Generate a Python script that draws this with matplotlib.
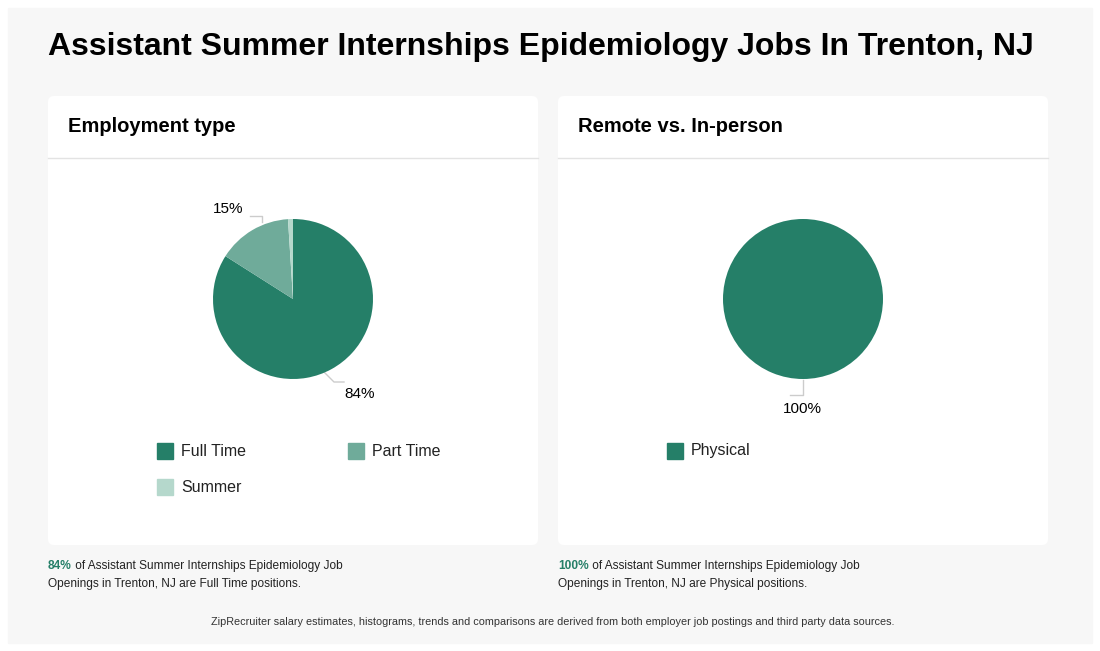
import matplotlib.pyplot as plt
from matplotlib.patches import FancyBboxPatch, Rectangle

W, H = 1100, 651
title = "Assistant Summer Internships Epidemiology Jobs In Trenton, NJ"

emp_labels = ["Full Time", "Part Time", "Summer"]
emp_values = [84, 15, 1]
emp_colors = ["#257f68", "#6fab9a", "#b5d8cc"]

rem_labels = ["Physical"]
rem_values = [100]
rem_colors = ["#257f68"]

plt.rcParams['font.family'] = ['Liberation Sans', 'DejaVu Sans']
fig = plt.figure(figsize=(W / 100, H / 100), dpi=100)
ax = fig.add_axes([0, 0, 1, 1])
ax.set_xlim(0, W)
ax.set_ylim(H, 0)
ax.axis('off')

ax.add_patch(Rectangle((8, 8), W - 16, H - 16, color="#f7f7f7", zorder=0))
ax.text(48, 47, title, fontsize=23, fontweight='bold', va='center')


def card(x0, heading):
    ax.add_patch(FancyBboxPatch((x0 + 6, 102), 478, 437, boxstyle="round,pad=6",
                                fc="white", ec="none", zorder=1))
    ax.plot([x0, x0 + 490], [158, 158], color="#e3e3e3", lw=1, zorder=2)
    ax.text(x0 + 20, 126, heading, fontsize=14.5, fontweight='bold', va='center', zorder=3)


def pie_at(cx, cy, values, colors):
    r = 80
    pa = fig.add_axes([(cx - r) / W, 1 - (cy + r) / H, 2 * r / W, 2 * r / H])
    pa.pie(values, colors=colors, startangle=90, counterclock=False,
           wedgeprops=dict(linewidth=0))
    pa.set_aspect('auto')
    pa.set_xlim(-1, 1)
    pa.set_ylim(-1, 1)


def legend(x0, y0, labels, colors):
    for i, (lab, c) in enumerate(zip(labels, colors)):
        x = x0 + (i % 2) * 191
        y = y0 + (i // 2) * 36
        ax.add_patch(Rectangle((x, y - 8), 16, 16, color=c, zorder=3))
        ax.text(x + 24, y, lab, fontsize=11.5, va='center', color="#222222", zorder=3)


card(48, "Employment type")
card(558, "Remote vs. In-person")

pie_at(293, 299, emp_values, emp_colors)
pie_at(803, 299, rem_values, rem_colors)

ax.plot([250, 262, 262], [216, 216, 222], color="#cccccc", lw=1, zorder=3)
ax.text(228, 209, "%d%%" % emp_values[1], fontsize=11, va='center', ha='center', zorder=3)
ax.plot([322, 334, 344], [370, 382, 382], color="#cccccc", lw=1, zorder=3)
ax.text(360, 394, "%d%%" % emp_values[0], fontsize=11, va='center', ha='center', zorder=3)
ax.plot([803, 803, 790], [380, 395, 395], color="#cccccc", lw=1, zorder=3)
ax.text(802, 409, "%d%%" % rem_values[0], fontsize=11, va='center', ha='center', zorder=3)

legend(157, 451, emp_labels, emp_colors)
legend(667, 451, rem_labels, rem_colors)

for x0, v, lab in [(48, emp_values[0], emp_labels[0]), (558, rem_values[0], rem_labels[0])]:
    t = ax.text(x0, 566, "%d%%" % v, fontsize=8.6, fontweight='bold', color="#257f68", va='center')
    fig.canvas.draw()
    bb = t.get_window_extent()
    ax.text(x0 + bb.width, 566, " of Assistant Summer Internships Epidemiology Job",
            fontsize=8.6, va='center', color="#222222")
    ax.text(x0, 584, "Openings in Trenton, NJ are %s positions." % lab,
            fontsize=8.6, va='center', color="#222222")

ax.text(553, 622, "ZipRecruiter salary estimates, histograms, trends and comparisons are derived "
        "from both employer job postings and third party data sources.",
        fontsize=7.85, ha='center', va='center', color="#333333")

fig.savefig("out.png", dpi=100)
